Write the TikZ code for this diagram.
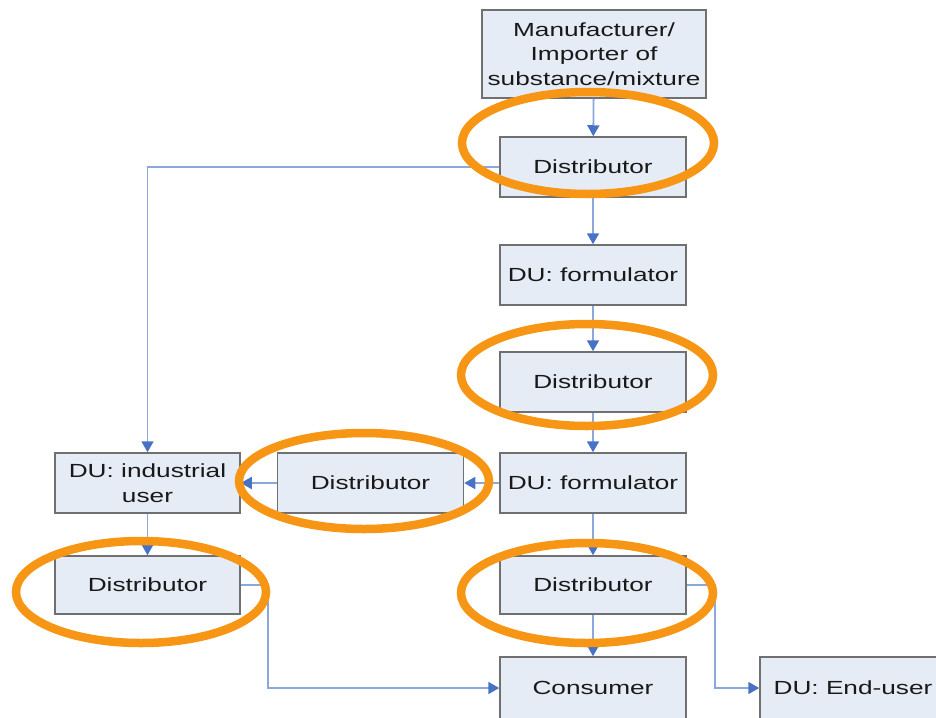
\documentclass[tikz,border=0pt]{standalone}
\usepackage{fontspec}
\setmainfont[FakeStretch=1.38]{Liberation Sans}
\usetikzlibrary{arrows.meta}
\definecolor{boxfill}{RGB}{230,236,246}
\definecolor{boxline}{RGB}{112,112,112}
\definecolor{connline}{RGB}{140,168,218}
\definecolor{arrowblue}{RGB}{72,115,196}
\definecolor{ringorange}{RGB}{247,150,20}
\definecolor{textdark}{RGB}{25,25,25}
\tikzset{
  x=1pt, y=-1pt,
  box/.style={draw=boxline, line width=1.5pt, fill=boxfill, minimum width=186pt, minimum height=60pt,
    inner sep=2pt, align=center, text=textdark, font=\fontsize{19}{24.5}\selectfont},
  conn/.style={draw=connline, line width=1.8pt, -{Triangle[length=11pt,width=12pt,color=arrowblue]}},
  ring/.style={draw=ringorange, line width=8.5pt}
}
\begin{document}
\begin{tikzpicture}
\useasboundingbox (0,0) rectangle (936,717);
\clip (0,0) rectangle (936,717);
% boxes
\node[box, minimum width=224pt, minimum height=88pt] (man) at (594,54) {Manufacturer/\\Importer of\\substance/mixture};
\node[box] (d1) at (593,167) {Distributor};
\node[box] (f1) at (593,275) {DU: formulator};
\node[box] (d2) at (593,382) {Distributor};
\node[box] (f2) at (593,483) {DU: formulator};
\node[box] (dm) at (370.5,483) {Distributor};
\node[box, minimum width=185pt] (ind) at (147.5,483) {DU: industrial\\user};
\node[box, minimum width=185pt, minimum height=58pt] (dl) at (147.5,585) {Distributor};
\node[box, minimum height=58pt] (dr) at (593,585) {Distributor};
\node[box, minimum height=62pt] (cons) at (593,688) {Consumer};
\node[box, minimum height=62pt] (end) at (853,688) {DU: End-user};
% connectors
\draw[conn] (man) -- (d1);
\draw[conn] (d1) -- (f1);
\draw[conn] (d1.west) -| (ind.north);
\draw[conn] (f1) -- (d2);
\draw[conn] (d2) -- (f2);
\draw[conn] (f2) -- (dm);
\draw[conn] (dm) -- (ind);
\draw[conn] (ind) -- (dl);
\draw[conn] (f2) -- (dr);
\draw[conn] (dr) -- (cons);
\draw[conn] (dl.east) -- ++(27,0) |- (cons.west);
\draw[conn] (dr.east) -- ++(28,0) |- (end.west);
% highlight rings
\draw[ring] (588,143) ellipse [x radius=126pt, y radius=51pt];
\draw[ring] (587,375) ellipse [x radius=126pt, y radius=51pt];
\draw[ring] (364,481) ellipse [x radius=125pt, y radius=48pt];
\draw[ring] (141,592) ellipse [x radius=125pt, y radius=51pt];
\draw[ring] (587,593) ellipse [x radius=126pt, y radius=50pt];
\end{tikzpicture}
\end{document}
